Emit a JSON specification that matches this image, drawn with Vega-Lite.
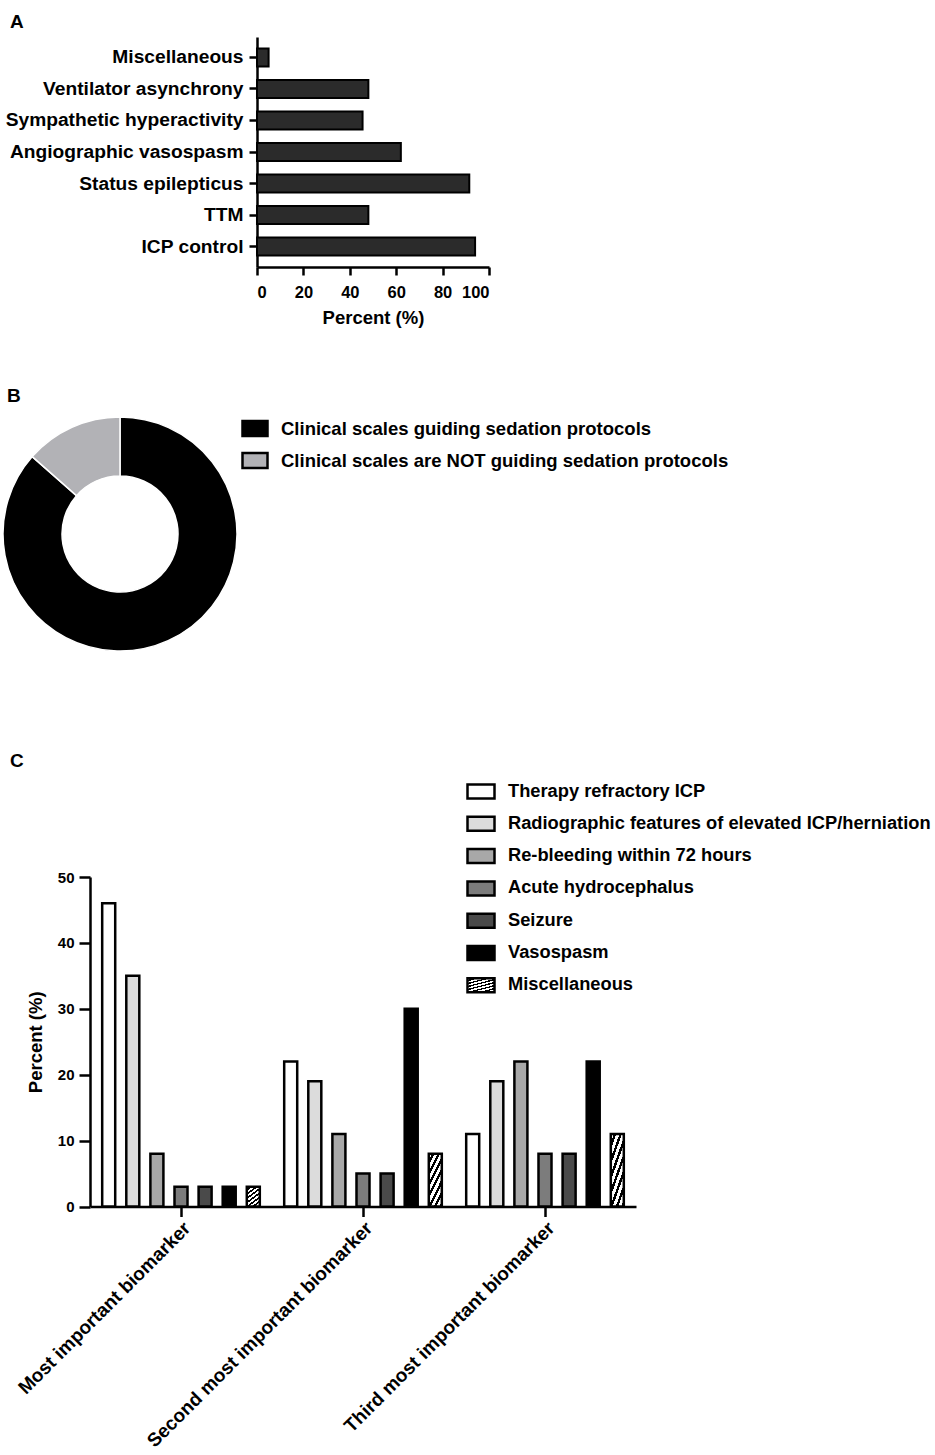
{
  "$schema": "https://vega.github.io/schema/vega-lite/v6.json",
  "background": "white",
  "padding": {"left": 0, "top": 13, "right": 0, "bottom": 0},
  "config": {
    "font": "Liberation Sans",
    "view": {"stroke": null},
    "axis": {"domainColor": "black", "domainWidth": 2.5, "tickColor": "black", "tickWidth": 2.5, "labelColor": "black", "labelFont": "Liberation Sans", "labelFontWeight": "bold", "titleFont": "Liberation Sans", "titleFontWeight": "bold", "titleColor": "black", "grid": false, "labelFontSize": 17, "titleFontSize": 18.5, "labelLimit": 0},
    "legend": {"labelFont": "Liberation Sans", "labelFontSize": 18.5, "labelFontWeight": "bold", "labelColor": "black", "symbolStrokeColor": "black", "symbolStrokeWidth": 2.5, "padding": 0, "labelLimit": 0},
    "title": {"font": "Liberation Sans", "fontSize": 19, "fontWeight": "bold", "anchor": "start", "frame": "bounds", "color": "black"}
  },
  "resolve": {"scale": {"fill": "independent"}, "legend": {"fill": "independent"}},
  "columns": 1,
  "align": "none",
  "spacing": 97,
  "concat": [
    {
      "columns": 1,
      "align": "none",
      "spacing": 60,
      "resolve": {"scale": {"fill": "independent"}, "legend": {"fill": "independent"}},
      "concat": [
        {
          "title": {"text": "A", "dx": 7, "offset": 5},
          "width": 488,
          "height": 230,
          "data": {"values": [
            {"reason": "Miscellaneous", "percent": 5},
            {"reason": "Ventilator asynchrony", "percent": 48},
            {"reason": "Sympathetic hyperactivity", "percent": 45.5},
            {"reason": "Angiographic vasospasm", "percent": 62},
            {"reason": "Status epilepticus", "percent": 91.5},
            {"reason": "TTM", "percent": 48},
            {"reason": "ICP control", "percent": 94}
          ]},
          "mark": {"type": "bar", "fill": "#2b2b2b", "stroke": "black", "strokeWidth": 2},
          "encoding": {
            "y": {"field": "reason", "type": "nominal", "sort": null, "scale": {"paddingInner": 0.43, "paddingOuter": 0.365}, "axis": {"title": null, "labelFontSize": 19.2, "tickSize": 8, "labelPadding": 6, "offset": -254}},
            "x": {"field": "percent", "type": "quantitative", "scale": {"domain": [0, 100], "range": [254, 486]}, "axis": {"values": [0, 20, 40, 60, 80, 100], "title": "Percent (%)", "tickSize": 8, "labelPadding": 9, "labelFontSize": 16.5, "titlePadding": 8}}
          }
        },
        {
          "title": {"text": "B", "dx": 7, "offset": 8},
          "width": 234,
          "height": 234,
          "data": {"values": [
            {"category": "Clinical scales guiding sedation protocols", "percent": 86.5, "rank": 1},
            {"category": "Clinical scales are NOT guiding sedation protocols", "percent": 13.5, "rank": 2}
          ]},
          "mark": {"type": "arc", "innerRadius": 58, "outerRadius": 117, "stroke": "white", "strokeWidth": 1.5},
          "encoding": {
            "theta": {"field": "percent", "type": "quantitative", "stack": true},
            "order": {"field": "rank", "type": "quantitative"},
            "fill": {"field": "category", "type": "nominal", "sort": null,
              "scale": {"domain": ["Clinical scales guiding sedation protocols", "Clinical scales are NOT guiding sedation protocols"], "range": ["#000000", "#b2b2b6"]},
              "legend": {"title": null, "orient": "none", "legendX": 238, "legendY": -2.5, "symbolType": "M-1,-0.6H1V0.6H-1Z", "symbolSize": 625, "labelOffset": 12, "rowPadding": 5}}
          }
        }
      ]
    },
    {
      "title": {"text": "C", "dx": 7, "offset": 6},
      "width": 633,
      "height": 329.5,
      "data": {"values": [
        {"group": "Most important biomarker", "marker": "Therapy refractory ICP", "percent": 46},
        {"group": "Most important biomarker", "marker": "Radiographic features of elevated ICP/herniation", "percent": 35},
        {"group": "Most important biomarker", "marker": "Re-bleeding within 72 hours", "percent": 8},
        {"group": "Most important biomarker", "marker": "Acute hydrocephalus", "percent": 3},
        {"group": "Most important biomarker", "marker": "Seizure", "percent": 3},
        {"group": "Most important biomarker", "marker": "Vasospasm", "percent": 3},
        {"group": "Most important biomarker", "marker": "Miscellaneous", "percent": 3},
        {"group": "Second most important biomarker", "marker": "Therapy refractory ICP", "percent": 22},
        {"group": "Second most important biomarker", "marker": "Radiographic features of elevated ICP/herniation", "percent": 19},
        {"group": "Second most important biomarker", "marker": "Re-bleeding within 72 hours", "percent": 11},
        {"group": "Second most important biomarker", "marker": "Acute hydrocephalus", "percent": 5},
        {"group": "Second most important biomarker", "marker": "Seizure", "percent": 5},
        {"group": "Second most important biomarker", "marker": "Vasospasm", "percent": 30},
        {"group": "Second most important biomarker", "marker": "Miscellaneous", "percent": 8},
        {"group": "Third most important biomarker", "marker": "Therapy refractory ICP", "percent": 11},
        {"group": "Third most important biomarker", "marker": "Radiographic features of elevated ICP/herniation", "percent": 19},
        {"group": "Third most important biomarker", "marker": "Re-bleeding within 72 hours", "percent": 22},
        {"group": "Third most important biomarker", "marker": "Acute hydrocephalus", "percent": 8},
        {"group": "Third most important biomarker", "marker": "Seizure", "percent": 8},
        {"group": "Third most important biomarker", "marker": "Vasospasm", "percent": 22},
        {"group": "Third most important biomarker", "marker": "Miscellaneous", "percent": 11}
      ]},
      "mark": {"type": "bar", "stroke": "black", "strokeWidth": 2.5},
      "encoding": {
        "x": {"field": "group", "type": "nominal", "sort": null, "scale": {"paddingInner": 0, "paddingOuter": 0, "range": [87, 633]},
          "axis": {"title": null, "labelAngle": -45, "labelAlign": "right", "labelBaseline": "top", "tickSize": 10, "labelFontSize": 19, "labelPadding": 2}},
        "xOffset": {"field": "marker", "type": "nominal", "sort": null, "scale": {"paddingInner": 0.46, "paddingOuter": 0.506}},
        "y": {"field": "percent", "type": "quantitative", "scale": {"domain": [0, 50]},
          "axis": {"values": [0, 10, 20, 30, 40, 50], "title": "Percent (%)", "tickSize": 11, "labelPadding": 5, "labelFontSize": 15, "titlePadding": 12, "offset": -87}},
        "fill": {"field": "marker", "type": "nominal", "sort": null,
          "scale": {
            "domain": ["Therapy refractory ICP", "Radiographic features of elevated ICP/herniation", "Re-bleeding within 72 hours", "Acute hydrocephalus", "Seizure", "Vasospasm", "Miscellaneous"],
            "range": ["#ffffff", "#dcdcdc", "#a8a8a8", "#7c7c7c", "#4a4a4a", "#000000",
              {"expr": "{gradient: 'linear', x1: 0, y1: 0, x2: 0.6, y2: 1.2, stops: [{offset: 0, color: 'white'}, {offset: 0.079, color: 'white'}, {offset: 0.079, color: 'black'}, {offset: 0.143, color: 'black'}, {offset: 0.143, color: 'white'}, {offset: 0.222, color: 'white'}, {offset: 0.222, color: 'black'}, {offset: 0.286, color: 'black'}, {offset: 0.286, color: 'white'}, {offset: 0.364, color: 'white'}, {offset: 0.364, color: 'black'}, {offset: 0.429, color: 'black'}, {offset: 0.429, color: 'white'}, {offset: 0.507, color: 'white'}, {offset: 0.507, color: 'black'}, {offset: 0.571, color: 'black'}, {offset: 0.571, color: 'white'}, {offset: 0.65, color: 'white'}, {offset: 0.65, color: 'black'}, {offset: 0.714, color: 'black'}, {offset: 0.714, color: 'white'}, {offset: 0.793, color: 'white'}, {offset: 0.793, color: 'black'}, {offset: 0.857, color: 'black'}, {offset: 0.857, color: 'white'}, {offset: 0.936, color: 'white'}, {offset: 0.936, color: 'black'}, {offset: 1, color: 'black'}]}"}
            ]
          },
          "legend": {"title": null, "orient": "none", "legendX": 463, "legendY": -100.5, "symbolType": "M-1,-0.52H1V0.52H-1Z", "symbolSize": 729, "labelOffset": 12, "rowPadding": 4.3, "labelFontSize": 18.3,
            "encode": {"symbols": {"update": {"stroke": {"value": "black"}, "strokeWidth": {"value": 2.5}}}}}
        }
      }
    }
  ]
}
